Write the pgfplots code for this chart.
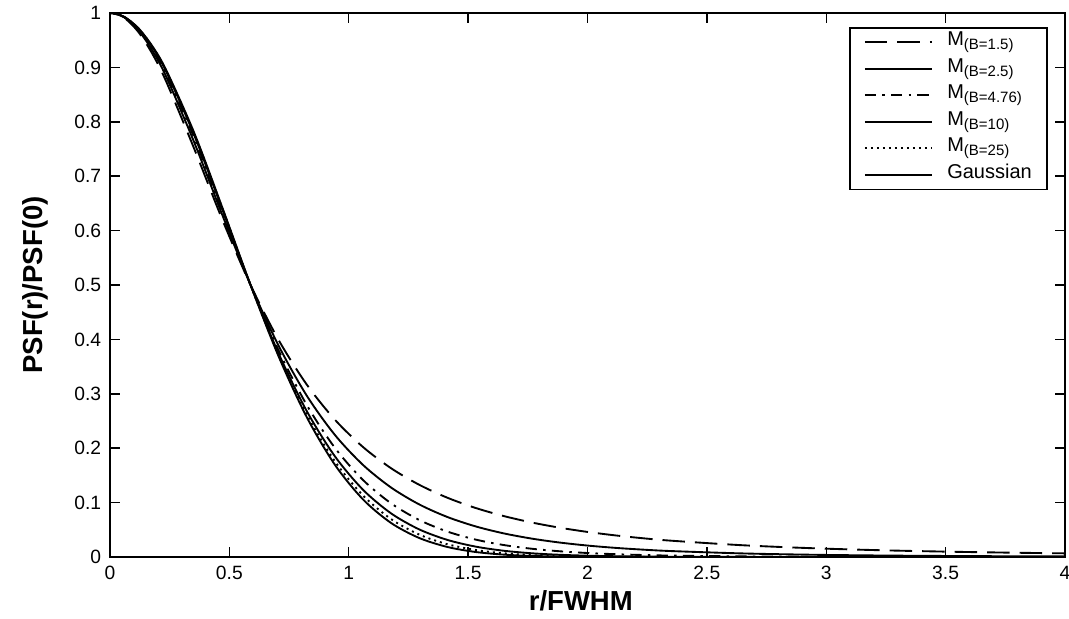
\documentclass[border=0pt]{standalone}
\usepackage{pgfplots}
\pgfplotsset{compat=1.18}
\usepackage{pgfplotstable}
\usetikzlibrary{calc}
\usepackage{fontspec}
\setmainfont{Liberation Sans}

\pgfplotstableread{
x      b15     b25     b476    b10     b25b    g
-0.0589 0.99125 0.99206 0.99257 0.99285 0.99300 0.99309
0      1       1       1       1       1       1
0.0589 0.99125 0.99206 0.99257 0.99285 0.99300 0.99309
0.1177 0.96576 0.96875 0.97069 0.97174 0.97230 0.97265
0.1766 0.92564 0.93158 0.93549 0.93764 0.93878 0.93952
0.2355 0.87394 0.88281 0.88877 0.89209 0.89386 0.89502
0.3532 0.74995 0.76171 0.77004 0.77484 0.77744 0.77916
0.4710 0.61959 0.62805 0.63440 0.63819 0.64030 0.64171
0.5887 0.5     0.5     0.5     0.5     0.5     0.5
0.7064 0.39875 0.38820 0.37953 0.37398 0.37077 0.36856
0.8242 0.31692 0.29651 0.27935 0.26815 0.26159 0.25703
0.9419 0.25241 0.22442 0.20069 0.18511 0.17596 0.16957
1.0597 0.20216 0.16923 0.14157 0.12359 0.11311 0.10584
1.1774 0.16312 0.12767 0.09858 0.08015 0.06965 0.06250
1.2952 0.13274 0.09665 0.06806 0.05071 0.04120 0.03492
1.4129 0.10896 0.07355 0.04677 0.03143 0.02347 0.01845
1.5306 0.09023 0.05634 0.03209 0.01915 0.01291 0.00923
1.6484 0.07536 0.04348 0.02203 0.01151 0.00688 0.00437
1.7661 0.06344 0.03382 0.01517 0.00685 0.00356 0.00195
1.8839 0.05382 0.02652 0.01049 0.00405 0.00179 0.00083
2.0016 0.04599 0.02095 0.00729 0.00238 0.00088 0.00033
2.1193 0.03956 0.01669 0.00510 0.00139 0.00042 0.00013
2.2371 0.03425 0.01339 0.00359 0.00082 0.00020 0.00004
2.3548 0.02982 0.01083 0.00254 0.00048 0.00009 0.00002
2.6492 0.02160 0.00656 0.00111 0.00013 0       0
2.9435 0.01610 0.00413 0.00051 0.00003 0       0
3.2379 0.01230 0.00269 0.00024 0       0       0
3.5322 0.00960 0.00181 0.00012 0       0       0
3.8266 0.00762 0.00125 0.00006 0       0       0
4.1209 0.00615 0.00088 0.00003 0       0       0
}\data

\begin{document}
\begin{tikzpicture}
\begin{axis}[
  scale only axis,
  width=382pt, height=217.6pt,
  xmin=0, xmax=4, ymin=0, ymax=1,
  xtick={0,0.5,1,1.5,2,2.5,3,3.5,4},
  ytick={0,0.1,0.2,0.3,0.4,0.5,0.6,0.7,0.8,0.9,1},
  tick align=inside,
  major tick length=4pt,
  axis line style={line width=0.8pt},
  every tick/.style={black, line width=0.6pt},
  /pgf/number format/assume math mode=true,
  /pgf/number format/fixed,
  tick label style={font=\fontsize{7.7}{9}\selectfont},
  xlabel={\textbf{r/FWHM}},
  ylabel={\textbf{PSF(r)/PSF(0)}},
  label style={font=\fontsize{11}{13}\selectfont},
  xlabel style={at={(axis description cs:0.493,-0.081)}, anchor=center},
  ylabel style={at={(axis description cs:-0.0785,0.5)}, anchor=center},
  legend style={at={(rel axis cs:0.982,0.974)}, anchor=north east,
    draw=black, line width=0.6pt, inner xsep=5.5pt, inner ysep=0.5pt,
    font=\fontsize{8}{9}\selectfont, row sep=0pt,
    nodes={inner sep=0.6pt, text height=6pt, text depth=3.4pt},
    /tikz/every odd column/.append style={column sep=5pt}},
  legend cell align=left,
  legend image code/.code={\draw[#1] (0pt,0pt) -- (27pt,0pt);},
  every axis plot/.append style={black, line width=0.75pt, smooth},
]
\addplot[dash pattern=on 9pt off 4pt] table[x=x,y=b15]{\data};
\addlegendentry{M\textsubscript{(B=1.5)}}
\addplot[solid] table[x=x,y=b25]{\data};
\addlegendentry{M\textsubscript{(B=2.5)}}
\addplot[dash pattern=on 4.5pt off 2.5pt on 1pt off 2.5pt] table[x=x,y=b476]{\data};
\addlegendentry{M\textsubscript{(B=4.76)}}
\addplot[solid] table[x=x,y=b10]{\data};
\addlegendentry{M\textsubscript{(B=10)}}
\addplot[dash pattern=on 0.8pt off 1.6pt] table[x=x,y=b25b]{\data};
\addlegendentry{M\textsubscript{(B=25)}}
\addplot[solid] table[x=x,y=g]{\data};
\addlegendentry{Gaussian}
\coordinate (bl) at (rel axis cs:0,0);
\coordinate (tr) at (rel axis cs:1,1);
\end{axis}
\pgfresetboundingbox
\path[use as bounding box] ($(bl)+(-44pt,-24.8pt)$) rectangle ($(tr)+(1.6pt,5.2pt)$);
\end{tikzpicture}
\end{document}
